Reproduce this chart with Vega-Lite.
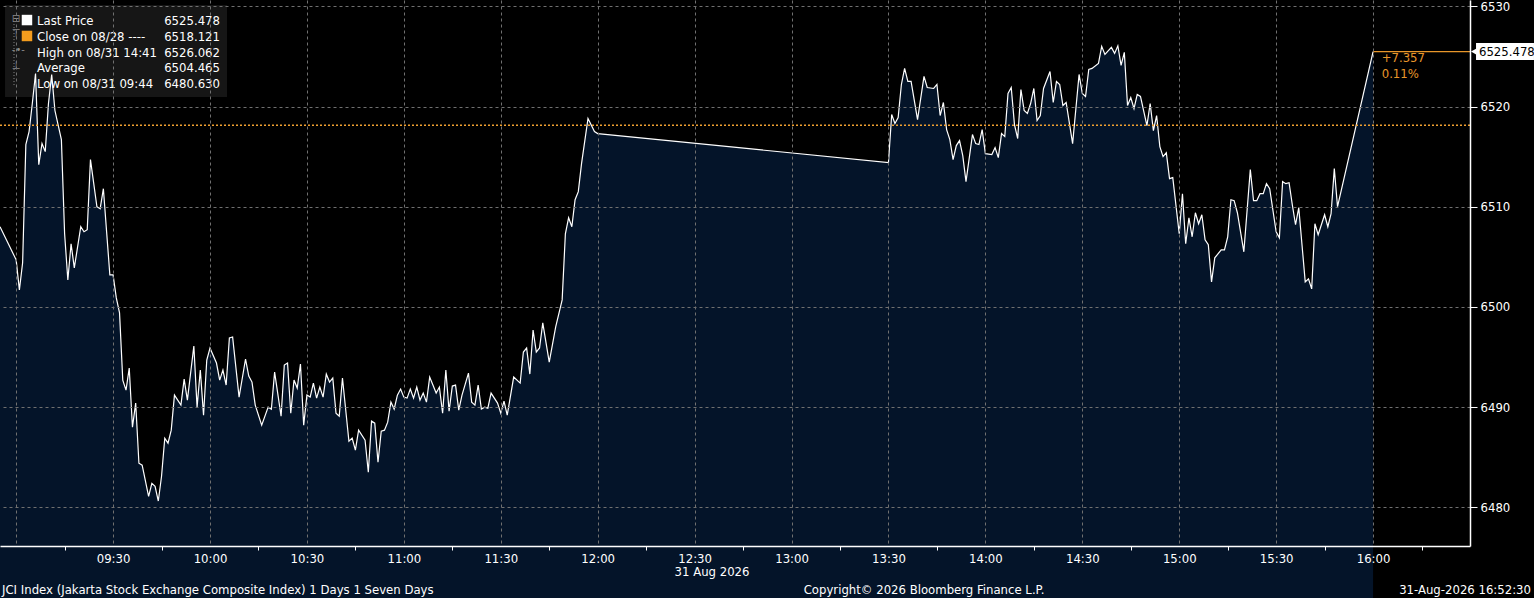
{
  "$schema": "https://vega.github.io/schema/vega-lite/v6.json",
  "width": 1470,
  "height": 546,
  "autosize": "none",
  "padding": {"left": 0, "top": 0, "right": 64, "bottom": 52},
  "background": "#000000",
  "config": {
    "view": {"stroke": null},
    "font": "Liberation Sans Narrow, DejaVu Sans Condensed, sans-serif",
    "text": {"font": "Liberation Sans Narrow, DejaVu Sans Condensed, sans-serif", "fontSize": 13, "color": "#ffffff"}
  },
  "data": {
    "values": [
      {"t": "2026-08-31T08:55", "p": 6508.0}, {"t": "2026-08-31T09:00", "p": 6504.7}, {"t": "2026-08-31T09:01", "p": 6501.7}, {"t": "2026-08-31T09:02", "p": 6504.4},
      {"t": "2026-08-31T09:03", "p": 6516.2}, {"t": "2026-08-31T09:04", "p": 6517.5}, {"t": "2026-08-31T09:05", "p": 6520.3}, {"t": "2026-08-31T09:06", "p": 6523.3},
      {"t": "2026-08-31T09:07", "p": 6514.2}, {"t": "2026-08-31T09:08", "p": 6516.3}, {"t": "2026-08-31T09:09", "p": 6515.5}, {"t": "2026-08-31T09:10", "p": 6520.3},
      {"t": "2026-08-31T09:11", "p": 6523.2}, {"t": "2026-08-31T09:12", "p": 6519.6}, {"t": "2026-08-31T09:14", "p": 6516.7}, {"t": "2026-08-31T09:15", "p": 6507.3},
      {"t": "2026-08-31T09:16", "p": 6502.7}, {"t": "2026-08-31T09:17", "p": 6506.3}, {"t": "2026-08-31T09:18", "p": 6503.9}, {"t": "2026-08-31T09:20", "p": 6508.0},
      {"t": "2026-08-31T09:21", "p": 6507.5}, {"t": "2026-08-31T09:22", "p": 6507.7}, {"t": "2026-08-31T09:23", "p": 6514.7}, {"t": "2026-08-31T09:25", "p": 6510.0},
      {"t": "2026-08-31T09:26", "p": 6509.8}, {"t": "2026-08-31T09:27", "p": 6511.8}, {"t": "2026-08-31T09:29", "p": 6503.2}, {"t": "2026-08-31T09:30", "p": 6503.2},
      {"t": "2026-08-31T09:31", "p": 6500.9}, {"t": "2026-08-31T09:32", "p": 6499.4}, {"t": "2026-08-31T09:33", "p": 6492.7}, {"t": "2026-08-31T09:34", "p": 6491.7},
      {"t": "2026-08-31T09:35", "p": 6493.9}, {"t": "2026-08-31T09:36", "p": 6488.0}, {"t": "2026-08-31T09:37", "p": 6490.4}, {"t": "2026-08-31T09:38", "p": 6484.4},
      {"t": "2026-08-31T09:39", "p": 6484.2}, {"t": "2026-08-31T09:41", "p": 6481.1}, {"t": "2026-08-31T09:42", "p": 6482.4}, {"t": "2026-08-31T09:43", "p": 6482.1},
      {"t": "2026-08-31T09:44", "p": 6480.63}, {"t": "2026-08-31T09:45", "p": 6483.1}, {"t": "2026-08-31T09:46", "p": 6486.9}, {"t": "2026-08-31T09:47", "p": 6486.4},
      {"t": "2026-08-31T09:48", "p": 6487.7}, {"t": "2026-08-31T09:49", "p": 6491.2}, {"t": "2026-08-31T09:51", "p": 6490.2}, {"t": "2026-08-31T09:52", "p": 6492.8},
      {"t": "2026-08-31T09:53", "p": 6490.7}, {"t": "2026-08-31T09:55", "p": 6496.1}, {"t": "2026-08-31T09:56", "p": 6490.0}, {"t": "2026-08-31T09:57", "p": 6493.7},
      {"t": "2026-08-31T09:58", "p": 6489.2}, {"t": "2026-08-31T09:59", "p": 6494.7}, {"t": "2026-08-31T10:00", "p": 6495.9}, {"t": "2026-08-31T10:02", "p": 6494.4},
      {"t": "2026-08-31T10:03", "p": 6492.7}, {"t": "2026-08-31T10:04", "p": 6493.7}, {"t": "2026-08-31T10:05", "p": 6492.2}, {"t": "2026-08-31T10:06", "p": 6496.9},
      {"t": "2026-08-31T10:07", "p": 6497.0}, {"t": "2026-08-31T10:09", "p": 6491.0}, {"t": "2026-08-31T10:11", "p": 6494.8}, {"t": "2026-08-31T10:12", "p": 6493.1},
      {"t": "2026-08-31T10:13", "p": 6492.5}, {"t": "2026-08-31T10:14", "p": 6490.2}, {"t": "2026-08-31T10:16", "p": 6488.2}, {"t": "2026-08-31T10:18", "p": 6490.0},
      {"t": "2026-08-31T10:19", "p": 6489.8}, {"t": "2026-08-31T10:20", "p": 6493.5}, {"t": "2026-08-31T10:22", "p": 6489.1}, {"t": "2026-08-31T10:23", "p": 6494.2},
      {"t": "2026-08-31T10:24", "p": 6494.4}, {"t": "2026-08-31T10:25", "p": 6489.4}, {"t": "2026-08-31T10:26", "p": 6492.7}, {"t": "2026-08-31T10:27", "p": 6491.9},
      {"t": "2026-08-31T10:28", "p": 6494.3}, {"t": "2026-08-31T10:29", "p": 6488.2}, {"t": "2026-08-31T10:30", "p": 6491.2}, {"t": "2026-08-31T10:31", "p": 6491.0},
      {"t": "2026-08-31T10:32", "p": 6492.4}, {"t": "2026-08-31T10:33", "p": 6490.9}, {"t": "2026-08-31T10:34", "p": 6492.0}, {"t": "2026-08-31T10:35", "p": 6491.0},
      {"t": "2026-08-31T10:36", "p": 6493.3}, {"t": "2026-08-31T10:37", "p": 6492.5}, {"t": "2026-08-31T10:38", "p": 6492.9}, {"t": "2026-08-31T10:39", "p": 6489.4},
      {"t": "2026-08-31T10:40", "p": 6489.1}, {"t": "2026-08-31T10:41", "p": 6492.9}, {"t": "2026-08-31T10:43", "p": 6486.6}, {"t": "2026-08-31T10:44", "p": 6486.9},
      {"t": "2026-08-31T10:45", "p": 6485.7}, {"t": "2026-08-31T10:46", "p": 6487.7}, {"t": "2026-08-31T10:48", "p": 6486.7}, {"t": "2026-08-31T10:49", "p": 6483.5},
      {"t": "2026-08-31T10:50", "p": 6488.6}, {"t": "2026-08-31T10:51", "p": 6488.4}, {"t": "2026-08-31T10:52", "p": 6484.5}, {"t": "2026-08-31T10:53", "p": 6487.6},
      {"t": "2026-08-31T10:54", "p": 6487.7}, {"t": "2026-08-31T10:55", "p": 6488.5}, {"t": "2026-08-31T10:56", "p": 6490.5}, {"t": "2026-08-31T10:57", "p": 6489.8},
      {"t": "2026-08-31T10:58", "p": 6491.2}, {"t": "2026-08-31T10:59", "p": 6491.8}, {"t": "2026-08-31T11:00", "p": 6491.0}, {"t": "2026-08-31T11:01", "p": 6490.9},
      {"t": "2026-08-31T11:02", "p": 6491.8}, {"t": "2026-08-31T11:03", "p": 6490.9}, {"t": "2026-08-31T11:04", "p": 6492.0}, {"t": "2026-08-31T11:05", "p": 6490.7},
      {"t": "2026-08-31T11:06", "p": 6491.4}, {"t": "2026-08-31T11:07", "p": 6490.5}, {"t": "2026-08-31T11:08", "p": 6493.0}, {"t": "2026-08-31T11:09", "p": 6492.2},
      {"t": "2026-08-31T11:10", "p": 6491.4}, {"t": "2026-08-31T11:11", "p": 6492.0}, {"t": "2026-08-31T11:12", "p": 6489.4}, {"t": "2026-08-31T11:13", "p": 6493.7},
      {"t": "2026-08-31T11:14", "p": 6489.6}, {"t": "2026-08-31T11:15", "p": 6492.1}, {"t": "2026-08-31T11:16", "p": 6492.2}, {"t": "2026-08-31T11:17", "p": 6489.7},
      {"t": "2026-08-31T11:18", "p": 6491.2}, {"t": "2026-08-31T11:20", "p": 6493.4}, {"t": "2026-08-31T11:21", "p": 6490.5}, {"t": "2026-08-31T11:22", "p": 6490.2},
      {"t": "2026-08-31T11:23", "p": 6492.2}, {"t": "2026-08-31T11:24", "p": 6489.8}, {"t": "2026-08-31T11:25", "p": 6490.0}, {"t": "2026-08-31T11:26", "p": 6489.9},
      {"t": "2026-08-31T11:27", "p": 6491.4}, {"t": "2026-08-31T11:29", "p": 6490.4}, {"t": "2026-08-31T11:30", "p": 6489.4}, {"t": "2026-08-31T11:31", "p": 6490.6},
      {"t": "2026-08-31T11:32", "p": 6489.2}, {"t": "2026-08-31T11:34", "p": 6493.0}, {"t": "2026-08-31T11:36", "p": 6492.4}, {"t": "2026-08-31T11:37", "p": 6495.5},
      {"t": "2026-08-31T11:38", "p": 6495.9}, {"t": "2026-08-31T11:39", "p": 6493.3}, {"t": "2026-08-31T11:40", "p": 6497.7}, {"t": "2026-08-31T11:41", "p": 6495.5},
      {"t": "2026-08-31T11:42", "p": 6495.9}, {"t": "2026-08-31T11:43", "p": 6498.4}, {"t": "2026-08-31T11:45", "p": 6494.5}, {"t": "2026-08-31T11:47", "p": 6498.0},
      {"t": "2026-08-31T11:49", "p": 6500.7}, {"t": "2026-08-31T11:50", "p": 6507.3}, {"t": "2026-08-31T11:51", "p": 6508.9}, {"t": "2026-08-31T11:52", "p": 6508.0},
      {"t": "2026-08-31T11:53", "p": 6510.7}, {"t": "2026-08-31T11:54", "p": 6511.5}, {"t": "2026-08-31T11:55", "p": 6514.3}, {"t": "2026-08-31T11:57", "p": 6518.8},
      {"t": "2026-08-31T11:59", "p": 6517.5}, {"t": "2026-08-31T12:00", "p": 6517.3}, {"t": "2026-08-31T13:30", "p": 6514.4}, {"t": "2026-08-31T13:31", "p": 6519.2},
      {"t": "2026-08-31T13:32", "p": 6518.3}, {"t": "2026-08-31T13:33", "p": 6518.9}, {"t": "2026-08-31T13:34", "p": 6522.2}, {"t": "2026-08-31T13:35", "p": 6523.8},
      {"t": "2026-08-31T13:36", "p": 6522.5}, {"t": "2026-08-31T13:37", "p": 6522.5}, {"t": "2026-08-31T13:39", "p": 6518.7}, {"t": "2026-08-31T13:41", "p": 6523.0},
      {"t": "2026-08-31T13:42", "p": 6521.9}, {"t": "2026-08-31T13:44", "p": 6521.8}, {"t": "2026-08-31T13:45", "p": 6522.2}, {"t": "2026-08-31T13:46", "p": 6519.1},
      {"t": "2026-08-31T13:47", "p": 6520.4}, {"t": "2026-08-31T13:48", "p": 6517.7}, {"t": "2026-08-31T13:49", "p": 6516.7}, {"t": "2026-08-31T13:50", "p": 6514.7},
      {"t": "2026-08-31T13:51", "p": 6516.1}, {"t": "2026-08-31T13:52", "p": 6516.6}, {"t": "2026-08-31T13:53", "p": 6515.1}, {"t": "2026-08-31T13:54", "p": 6512.5},
      {"t": "2026-08-31T13:56", "p": 6517.2}, {"t": "2026-08-31T13:57", "p": 6516.3}, {"t": "2026-08-31T13:58", "p": 6516.2}, {"t": "2026-08-31T13:59", "p": 6517.7},
      {"t": "2026-08-31T14:00", "p": 6515.3}, {"t": "2026-08-31T14:02", "p": 6515.2}, {"t": "2026-08-31T14:03", "p": 6515.9}, {"t": "2026-08-31T14:04", "p": 6514.9},
      {"t": "2026-08-31T14:05", "p": 6517.3}, {"t": "2026-08-31T14:06", "p": 6517.0}, {"t": "2026-08-31T14:07", "p": 6521.3}, {"t": "2026-08-31T14:08", "p": 6521.9},
      {"t": "2026-08-31T14:09", "p": 6518.2}, {"t": "2026-08-31T14:10", "p": 6516.8}, {"t": "2026-08-31T14:11", "p": 6521.7}, {"t": "2026-08-31T14:12", "p": 6519.6},
      {"t": "2026-08-31T14:13", "p": 6519.3}, {"t": "2026-08-31T14:14", "p": 6520.3}, {"t": "2026-08-31T14:15", "p": 6521.8}, {"t": "2026-08-31T14:16", "p": 6518.6},
      {"t": "2026-08-31T14:17", "p": 6519.1}, {"t": "2026-08-31T14:18", "p": 6521.8}, {"t": "2026-08-31T14:20", "p": 6523.5}, {"t": "2026-08-31T14:21", "p": 6520.4},
      {"t": "2026-08-31T14:22", "p": 6522.5}, {"t": "2026-08-31T14:23", "p": 6522.2}, {"t": "2026-08-31T14:24", "p": 6520.1}, {"t": "2026-08-31T14:25", "p": 6520.4},
      {"t": "2026-08-31T14:27", "p": 6516.3}, {"t": "2026-08-31T14:29", "p": 6523.2}, {"t": "2026-08-31T14:30", "p": 6521.3}, {"t": "2026-08-31T14:31", "p": 6521.0},
      {"t": "2026-08-31T14:32", "p": 6523.7}, {"t": "2026-08-31T14:33", "p": 6523.8}, {"t": "2026-08-31T14:35", "p": 6524.3}, {"t": "2026-08-31T14:36", "p": 6526.0},
      {"t": "2026-08-31T14:37", "p": 6525.2}, {"t": "2026-08-31T14:39", "p": 6525.9}, {"t": "2026-08-31T14:40", "p": 6525.3}, {"t": "2026-08-31T14:41", "p": 6526.062},
      {"t": "2026-08-31T14:42", "p": 6524.1}, {"t": "2026-08-31T14:43", "p": 6525.4}, {"t": "2026-08-31T14:44", "p": 6520.1}, {"t": "2026-08-31T14:45", "p": 6520.9},
      {"t": "2026-08-31T14:46", "p": 6519.8}, {"t": "2026-08-31T14:47", "p": 6521.2}, {"t": "2026-08-31T14:48", "p": 6521.0}, {"t": "2026-08-31T14:50", "p": 6518.1},
      {"t": "2026-08-31T14:51", "p": 6520.3}, {"t": "2026-08-31T14:52", "p": 6517.6}, {"t": "2026-08-31T14:53", "p": 6519.1}, {"t": "2026-08-31T14:54", "p": 6516.0},
      {"t": "2026-08-31T14:55", "p": 6515.0}, {"t": "2026-08-31T14:56", "p": 6515.4}, {"t": "2026-08-31T14:57", "p": 6512.8}, {"t": "2026-08-31T14:58", "p": 6512.9},
      {"t": "2026-08-31T15:00", "p": 6507.3}, {"t": "2026-08-31T15:01", "p": 6511.3}, {"t": "2026-08-31T15:02", "p": 6506.3}, {"t": "2026-08-31T15:03", "p": 6508.9},
      {"t": "2026-08-31T15:04", "p": 6507.0}, {"t": "2026-08-31T15:05", "p": 6509.4}, {"t": "2026-08-31T15:06", "p": 6508.3}, {"t": "2026-08-31T15:07", "p": 6509.2},
      {"t": "2026-08-31T15:08", "p": 6506.7}, {"t": "2026-08-31T15:09", "p": 6506.2}, {"t": "2026-08-31T15:10", "p": 6502.5}, {"t": "2026-08-31T15:11", "p": 6504.9},
      {"t": "2026-08-31T15:13", "p": 6505.7}, {"t": "2026-08-31T15:14", "p": 6505.7}, {"t": "2026-08-31T15:15", "p": 6507.0}, {"t": "2026-08-31T15:16", "p": 6510.7},
      {"t": "2026-08-31T15:17", "p": 6510.6}, {"t": "2026-08-31T15:18", "p": 6509.4}, {"t": "2026-08-31T15:20", "p": 6505.5}, {"t": "2026-08-31T15:22", "p": 6513.7},
      {"t": "2026-08-31T15:23", "p": 6510.6}, {"t": "2026-08-31T15:24", "p": 6510.6}, {"t": "2026-08-31T15:25", "p": 6511.3}, {"t": "2026-08-31T15:26", "p": 6511.3},
      {"t": "2026-08-31T15:27", "p": 6512.3}, {"t": "2026-08-31T15:28", "p": 6511.8}, {"t": "2026-08-31T15:30", "p": 6507.5}, {"t": "2026-08-31T15:31", "p": 6506.9},
      {"t": "2026-08-31T15:32", "p": 6512.5}, {"t": "2026-08-31T15:33", "p": 6512.3}, {"t": "2026-08-31T15:34", "p": 6512.4}, {"t": "2026-08-31T15:35", "p": 6510.2},
      {"t": "2026-08-31T15:36", "p": 6508.2}, {"t": "2026-08-31T15:37", "p": 6509.9}, {"t": "2026-08-31T15:39", "p": 6502.5}, {"t": "2026-08-31T15:40", "p": 6502.8},
      {"t": "2026-08-31T15:41", "p": 6501.8}, {"t": "2026-08-31T15:42", "p": 6508.3}, {"t": "2026-08-31T15:43", "p": 6507.2}, {"t": "2026-08-31T15:45", "p": 6509.2},
      {"t": "2026-08-31T15:46", "p": 6508.0}, {"t": "2026-08-31T15:47", "p": 6509.3}, {"t": "2026-08-31T15:48", "p": 6513.8}, {"t": "2026-08-31T15:49", "p": 6510.0},
      {"t": "2026-08-31T16:00", "p": 6525.478}
    ]
  },
  "layer": [
    {
      "data": {"values": [{}]},
      "mark": {"type": "rect", "color": "#161616"},
      "encoding": {
        "x": {"datum": {"year": 2026, "month": 8, "date": 31, "hours": 8, "minutes": 56, "seconds": 33}, "type": "temporal"},
        "x2": {"datum": {"year": 2026, "month": 8, "date": 31, "hours": 10, "minutes": 5, "seconds": 16}},
        "y": {"datum": 6530.13, "type": "quantitative"},
        "y2": {"datum": 6520.95}
      }
    },
    {
      "mark": {"type": "area", "color": "#061d3b", "line": {"color": "#ffffff", "strokeWidth": 1.2}},
      "encoding": {
        "x": {
          "field": "t",
          "type": "temporal",
          "title": null,
          "scale": {"domain": [
            {"year": 2026, "month": 8, "date": 31, "hours": 8, "minutes": 55},
            {"year": 2026, "month": 8, "date": 31, "hours": 16, "minutes": 30}
          ]},
          "axis": {
            "grid": true,
            "tickCount": 31,
            "format": "%H:%M",
            "labelExpr": "minutes(datum.value) % 30 === 0 && datum.value > datetime(2026, 7, 31, 9, 10) && datum.value < datetime(2026, 7, 31, 16, 20) ? datum.label : ''",
            "labelOverlap": false,
            "labelFlush": false,
            "labelColor": "#ffffff",
            "labelFontSize": 13,
            "labelPadding": 2,
            "ticks": true,
            "tickSize": 4,
            "tickColor": "#ffffff",
            "tickOpacity": {"condition": {"test": "minutes(datum.value) % 30 === 15", "value": 1}, "value": 0},
            "gridOpacity": {"condition": {"test": "minutes(datum.value) % 30 === 0", "value": 1}, "value": 0},
            "gridColor": "#707070",
            "gridDash": [3, 3],
            "domainColor": "#ffffff",
            "domainWidth": 1.5,
            "zindex": 1
          }
        },
        "y": {
          "field": "p",
          "type": "quantitative",
          "title": null,
          "scale": {"domain": [6476.14, 6530.63], "nice": false, "zero": false},
          "axis": {
            "grid": true,
            "orient": "right",
            "values": [6480, 6490, 6500, 6510, 6520, 6530],
            "format": "d",
            "labelColor": "#ffffff",
            "labelFontSize": 13,
            "labelPadding": 3,
            "tickColor": "#ffffff",
            "tickSize": 7,
            "gridColor": "#707070",
            "gridDash": [3, 3],
            "domainColor": "#ffffff",
            "domainWidth": 1.5,
            "zindex": 1
          }
        }
      }
    },
    {
      "data": {"values": [{}]},
      "mark": {"type": "rule", "color": "#f0a030", "strokeDash": [2, 2], "strokeWidth": 1.5},
      "encoding": {"y": {"datum": 6518.121}}
    },
    {
      "data": {"values": [{}]},
      "mark": {"type": "rule", "color": "#e8962a", "strokeWidth": 1.2},
      "encoding": {
        "x": {"datum": {"year": 2026, "month": 8, "date": 31, "hours": 16, "minutes": 0}},
        "x2": {"datum": {"year": 2026, "month": 8, "date": 31, "hours": 16, "minutes": 30}},
        "y": {"datum": 6525.478}
      }
    },
    {
      "data": {"values": [{}]},
      "mark": {"type": "text", "text": ["+7.357", "0.11%"], "color": "#e8962a", "align": "left", "baseline": "top", "lineHeight": 16, "fontSize": 13},
      "encoding": {
        "x": {"datum": {"year": 2026, "month": 8, "date": 31, "hours": 16, "minutes": 2, "seconds": 40}},
        "y": {"datum": 6525.44}
      }
    },
    {
      "data": {"values": [{}]},
      "mark": {"type": "rect", "color": "#ffffff"},
      "encoding": {
        "x": {"datum": {"year": 2026, "month": 8, "date": 31, "hours": 16, "minutes": 31, "seconds": 52}},
        "x2": {"datum": {"year": 2026, "month": 8, "date": 31, "hours": 16, "minutes": 49, "seconds": 48}},
        "y": {"datum": 6526.34},
        "y2": {"datum": 6524.64}
      }
    },
    {
      "data": {"values": [{}]},
      "mark": {"type": "point", "shape": "triangle-left", "filled": true, "color": "#ffffff", "size": 40, "opacity": 1},
      "encoding": {
        "x": {"datum": {"year": 2026, "month": 8, "date": 31, "hours": 16, "minutes": 31, "seconds": 10}},
        "y": {"datum": 6525.478}
      }
    },
    {
      "data": {"values": [{}]},
      "mark": {"type": "text", "text": "6525.478", "color": "#000000", "align": "left", "baseline": "middle", "fontSize": 13},
      "encoding": {
        "x": {"datum": {"year": 2026, "month": 8, "date": 31, "hours": 16, "minutes": 32, "seconds": 47}},
        "y": {"datum": 6525.478}
      }
    },
    {
      "data": {"values": [{}]},
      "mark": {"type": "rule", "color": "#8a8a8a", "strokeDash": [1, 2]},
      "encoding": {
        "x": {"datum": {"year": 2026, "month": 8, "date": 31, "hours": 8, "minutes": 59, "seconds": 20}},
        "y": {"datum": 6528.23},
        "y2": {"datum": 6522.05}
      }
    },
    {
      "data": {"values": [{}]},
      "mark": {"type": "text", "text": ["⊟", " ", "⊤", "-•-", "⊥"], "color": "#8a8a8a", "align": "left", "baseline": "middle", "lineHeight": 15.9, "fontSize": 11},
      "encoding": {
        "x": {"datum": {"year": 2026, "month": 8, "date": 31, "hours": 8, "minutes": 58, "seconds": 40}},
        "y": {"datum": 6528.78}
      }
    },
    {
      "data": {"values": [{}]},
      "mark": {"type": "point", "shape": "square", "filled": true, "color": "#ffffff", "size": 110, "opacity": 1},
      "encoding": {
        "x": {"datum": {"year": 2026, "month": 8, "date": 31, "hours": 9, "minutes": 3, "seconds": 21}},
        "y": {"datum": 6528.63}
      }
    },
    {
      "data": {"values": [{}]},
      "mark": {"type": "point", "shape": "square", "filled": true, "color": "#f39c1e", "size": 110, "opacity": 1},
      "encoding": {
        "x": {"datum": {"year": 2026, "month": 8, "date": 31, "hours": 9, "minutes": 3, "seconds": 21}},
        "y": {"datum": 6527.04}
      }
    },
    {
      "data": {"values": [{}]},
      "mark": {"type": "text", "text": ["Last Price", "Close on 08/28 ----", "High on 08/31 14:41", "Average", "Low on 08/31 09:44"], "align": "left", "baseline": "middle", "lineHeight": 15.9},
      "encoding": {
        "x": {"datum": {"year": 2026, "month": 8, "date": 31, "hours": 9, "minutes": 6, "seconds": 27}},
        "y": {"datum": 6528.56}
      }
    },
    {
      "data": {"values": [{}]},
      "mark": {"type": "text", "text": ["6525.478", "6518.121", "6526.062", "6504.465", "6480.630"], "align": "right", "baseline": "middle", "lineHeight": 15.9},
      "encoding": {
        "x": {"datum": {"year": 2026, "month": 8, "date": 31, "hours": 10, "minutes": 3, "seconds": 5}},
        "y": {"datum": 6528.56}
      }
    },
    {
      "data": {"values": [{}]},
      "mark": {"type": "text", "text": "31 Aug 2026", "align": "center", "baseline": "middle"},
      "encoding": {
        "x": {"datum": {"year": 2026, "month": 8, "date": 31, "hours": 12, "minutes": 35, "seconds": 23}},
        "y": {"datum": 6473.55}
      }
    },
    {
      "data": {"values": [{}]},
      "mark": {"type": "text", "text": "JCI Index (Jakarta Stock Exchange Composite Index) 1 Days 1 Seven Days", "align": "left", "baseline": "middle"},
      "encoding": {
        "x": {"datum": {"year": 2026, "month": 8, "date": 31, "hours": 8, "minutes": 55, "seconds": 37}},
        "y": {"datum": 6471.75}
      }
    },
    {
      "data": {"values": [{}]},
      "mark": {"type": "text", "text": "Copyright© 2026 Bloomberg Finance L.P.", "align": "center", "baseline": "middle"},
      "encoding": {
        "x": {"datum": {"year": 2026, "month": 8, "date": 31, "hours": 13, "minutes": 41}},
        "y": {"datum": 6471.75}
      }
    },
    {
      "data": {"values": [{}]},
      "mark": {"type": "text", "text": "31-Aug-2026 16:52:30", "align": "right", "baseline": "middle"},
      "encoding": {
        "x": {"datum": {"year": 2026, "month": 8, "date": 31, "hours": 16, "minutes": 48, "seconds": 53}},
        "y": {"datum": 6471.75}
      }
    }
  ]
}
